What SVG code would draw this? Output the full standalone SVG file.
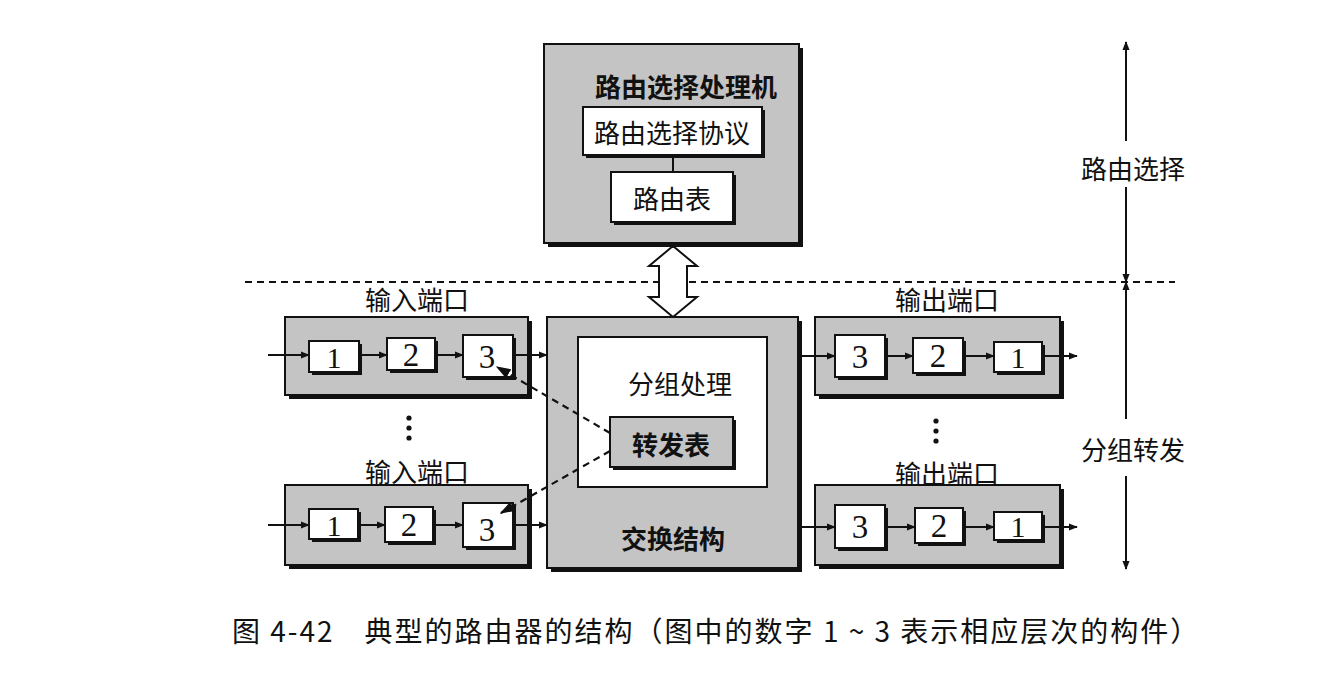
<svg xmlns="http://www.w3.org/2000/svg" width="1330" height="696" viewBox="0 0 1330 696">
<defs>
<style>
.g{fill:#c4c4c4;stroke:#111;stroke-width:2}
.w{fill:#fff;stroke:#111;stroke-width:2}
.sh{fill:#111}
.t{font-family:"Noto Sans CJK SC","Noto Sans",sans-serif;font-size:26px;fill:#111;text-anchor:middle;dominant-baseline:central}
.b{font-weight:bold}
.n{font-family:"Liberation Serif",serif;font-size:33px;fill:#111;text-anchor:middle}
.n1{font-size:30px}
.ln{stroke:#111;stroke-width:2;fill:none}
.ds{stroke:#111;stroke-width:2.2;fill:none;stroke-dasharray:7 5}
</style>
<marker id="ah" viewBox="0 0 10 10" refX="9" refY="5" markerWidth="9" markerHeight="9" markerUnits="userSpaceOnUse" orient="auto-start-reverse">
<path d="M0,1 L10,5 L0,9 Z" fill="#111"/>
</marker>
<marker id="ah2" viewBox="0 0 10 10" refX="9" refY="5" markerWidth="15" markerHeight="15" markerUnits="userSpaceOnUse" orient="auto-start-reverse">
<path d="M0,1.5 L10,5 L0,8.5 Z" fill="#111"/>
</marker>
</defs>
<rect width="1330" height="696" fill="#fff"/>

<!-- separator dashed line -->
<line class="ds" x1="245" y1="282" x2="1175" y2="282" stroke-dasharray="8 5"/>

<g id="routing-processor">
<rect class="sh" x="548" y="48" width="255" height="199"/>
<rect class="g" x="544" y="44" width="255" height="199"/>
<text class="t b" x="686" y="85">路由选择处理机</text>
</g>
<g id="routing-protocol">
<rect class="sh" x="586" y="110" width="179" height="48"/>
<rect class="w" x="583" y="107" width="179" height="48"/>
<text class="t" x="672" y="131">路由选择协议</text>
</g>
<g id="routing-table">
<rect class="sh" x="614" y="175" width="122" height="50"/>
<rect class="w" x="611" y="172" width="122" height="50"/>
<text class="t" x="672" y="197">路由表</text>
</g>

<g id="switch-fabric">
<rect class="sh" x="551" y="321" width="251" height="251"/>
<rect class="g" x="547" y="317" width="251" height="251"/>
<text class="t b" x="673" y="537">交换结构</text>
</g>
<g id="packet-processing">
<rect class="w" x="578" y="337" width="189" height="150" stroke-width="1.5"/>
<text class="t" x="680" y="382">分组处理</text>
</g>
<g id="forwarding-table">
<rect class="sh" x="613" y="420" width="123" height="50"/>
<rect class="g" x="610" y="417" width="123" height="50"/>
<text class="t b" x="671" y="443">转发表</text>
</g>

<g id="input-port-1">
<text class="t" x="417" y="298">输入端口</text>
<rect class="sh" x="289" y="321" width="243" height="78"/>
<rect class="g" x="285" y="317" width="243" height="78"/>
<rect class="sh" x="312" y="344" width="50" height="31"/>
<rect class="w" x="309" y="341" width="50" height="31"/>
<text class="n n1" x="334" y="368">1</text>
<rect class="sh" x="390" y="341" width="48" height="32"/>
<rect class="w" x="387" y="338" width="48" height="32"/>
<text class="n" x="411" y="366">2</text>
<rect class="sh" x="466" y="338" width="50" height="42"/>
<rect class="w" x="463" y="335" width="50" height="42"/>
<text class="n" x="487" y="368">3</text>
</g>
<g id="input-port-n">
<text class="t" x="417" y="470">输入端口</text>
<rect class="sh" x="289" y="489" width="243" height="80"/>
<rect class="g" x="285" y="485" width="243" height="80"/>
<rect class="sh" x="312" y="512" width="49" height="30"/>
<rect class="w" x="309" y="509" width="49" height="30"/>
<text class="n n1" x="334" y="536">1</text>
<rect class="sh" x="388" y="510" width="48" height="35"/>
<rect class="w" x="385" y="507" width="48" height="35"/>
<text class="n" x="409" y="536">2</text>
<rect class="sh" x="466" y="506" width="50" height="44"/>
<rect class="w" x="463" y="503" width="50" height="44"/>
<text class="n" x="487" y="541">3</text>
</g>
<g id="output-port-1">
<text class="t" x="947" y="298">输出端口</text>
<rect class="sh" x="819" y="321" width="245" height="78"/>
<rect class="g" x="815" y="317" width="245" height="78"/>
<rect class="sh" x="838" y="338" width="50" height="42"/>
<rect class="w" x="835" y="335" width="50" height="42"/>
<text class="n" x="860" y="368">3</text>
<rect class="sh" x="916" y="341" width="50" height="35"/>
<rect class="w" x="913" y="338" width="50" height="35"/>
<text class="n" x="938" y="367">2</text>
<rect class="sh" x="997" y="345" width="48" height="30"/>
<rect class="w" x="994" y="342" width="48" height="30"/>
<text class="n n1" x="1018" y="368">1</text>
</g>
<g id="output-port-n">
<text class="t" x="947" y="472">输出端口</text>
<rect class="sh" x="819" y="489" width="245" height="80"/>
<rect class="g" x="815" y="485" width="245" height="80"/>
<rect class="sh" x="838" y="508" width="50" height="43"/>
<rect class="w" x="835" y="505" width="50" height="43"/>
<text class="n" x="860" y="538">3</text>
<rect class="sh" x="918" y="511" width="48" height="35"/>
<rect class="w" x="915" y="508" width="48" height="35"/>
<text class="n" x="939" y="537">2</text>
<rect class="sh" x="997" y="515" width="48" height="28"/>
<rect class="w" x="994" y="512" width="48" height="28"/>
<text class="n n1" x="1018" y="537">1</text>
</g>

<g id="ellipsis">
<circle cx="409" cy="418" r="2.6" fill="#111"/>
<circle cx="409" cy="428" r="2.6" fill="#111"/>
<circle cx="409" cy="438" r="2.6" fill="#111"/>
<circle cx="936" cy="421" r="2.6" fill="#111"/>
<circle cx="936" cy="431" r="2.6" fill="#111"/>
<circle cx="936" cy="441" r="2.6" fill="#111"/>
</g>

<g id="connectors">
<line class="ln" x1="673" y1="155" x2="673" y2="172" stroke-width="3"/>
<polygon points="673,246 697,266 687,266 687,297 697,297 673,317 649,297 659,297 659,266 649,266" fill="#fff" stroke="#111" stroke-width="2"/>
<line class="ln" x1="268" y1="355" x2="309" y2="355" marker-end="url(#ah)"/>
<line class="ln" x1="359" y1="355" x2="387" y2="355" marker-end="url(#ah)"/>
<line class="ln" x1="435" y1="355" x2="463" y2="355" marker-end="url(#ah)"/>
<line class="ln" x1="516" y1="355" x2="547" y2="355" marker-end="url(#ah)"/>
<line class="ln" x1="268" y1="525" x2="309" y2="525" marker-end="url(#ah)"/>
<line class="ln" x1="358" y1="525" x2="385" y2="525" marker-end="url(#ah)"/>
<line class="ln" x1="433" y1="525" x2="463" y2="525" marker-end="url(#ah)"/>
<line class="ln" x1="516" y1="525" x2="547" y2="525" marker-end="url(#ah)"/>
<line class="ln" x1="802" y1="356" x2="835" y2="356" marker-end="url(#ah)"/>
<line class="ln" x1="888" y1="356" x2="913" y2="356" marker-end="url(#ah)"/>
<line class="ln" x1="966" y1="356" x2="994" y2="356" marker-end="url(#ah)"/>
<line class="ln" x1="1045" y1="356" x2="1077" y2="356" marker-end="url(#ah)"/>
<line class="ln" x1="802" y1="527" x2="835" y2="527" marker-end="url(#ah)"/>
<line class="ln" x1="888" y1="527" x2="915" y2="527" marker-end="url(#ah)"/>
<line class="ln" x1="966" y1="527" x2="994" y2="527" marker-end="url(#ah)"/>
<line class="ln" x1="1045" y1="527" x2="1077" y2="527" marker-end="url(#ah)"/>
<line class="ds" x1="610" y1="433" x2="497" y2="367" marker-end="url(#ah2)"/>
<line class="ds" x1="610" y1="451" x2="501" y2="513" marker-end="url(#ah2)"/>
<line class="ln" x1="1126" y1="141" x2="1126" y2="42" marker-end="url(#ah)"/>
<line class="ln" x1="1126" y1="187" x2="1126" y2="282" marker-end="url(#ah)"/>
<line class="ln" x1="1126" y1="419" x2="1126" y2="282" marker-end="url(#ah)"/>
<line class="ln" x1="1126" y1="476" x2="1126" y2="569" marker-end="url(#ah)"/>
</g>

<g id="layer-labels">
<text class="t" x="1133" y="167" font-size="27">路由选择</text>
<text class="t" x="1133" y="448" font-size="27">分组转发</text>
</g>

<text x="232" y="642" font-family="Noto Sans CJK SC, sans-serif" font-size="28" letter-spacing="2" fill="#111">图 4-42　典型的路由器的结构（图中的数字 1 ~ 3 表示相应层次的构件）</text>
</svg>
